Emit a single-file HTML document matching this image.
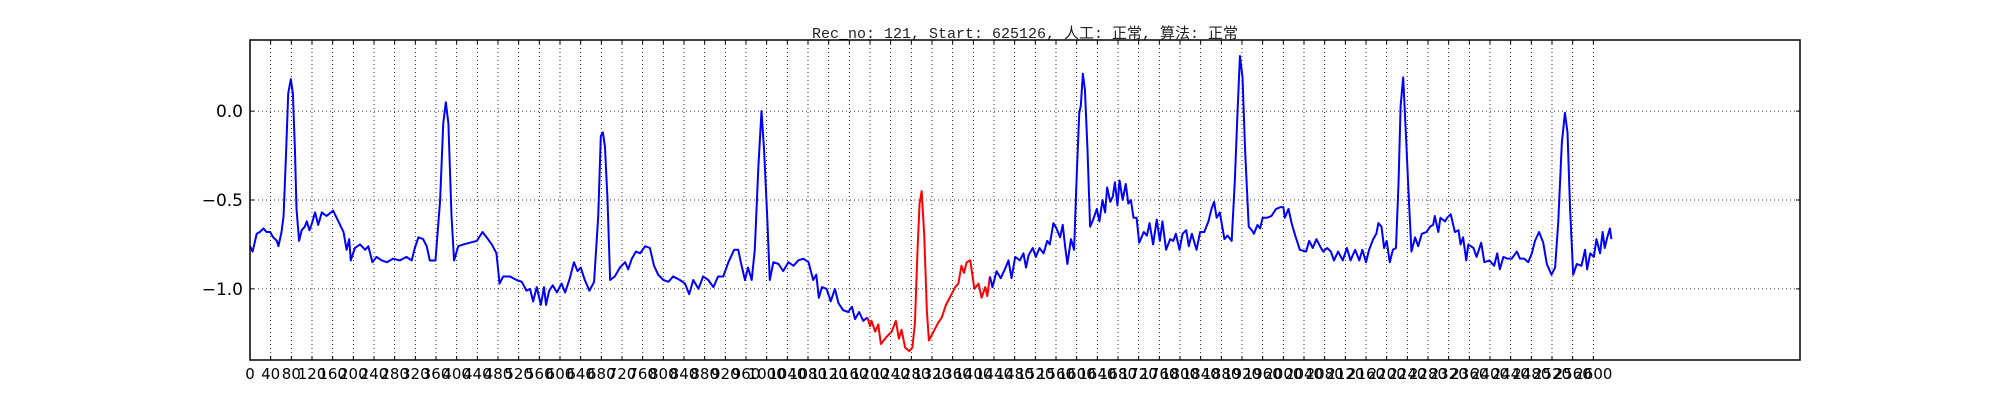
<!DOCTYPE html>
<html><head><meta charset="utf-8">
<style>
html,body{margin:0;padding:0;background:#fff;}
svg{display:block;}
</style></head>
<body>
<svg id="chart" width="2000" height="400" xmlns="http://www.w3.org/2000/svg">
<rect x="0" y="0" width="2000" height="400" fill="#fff"/>
<text x="1025" y="38" text-anchor="middle" font-family="'Liberation Mono','Noto Sans CJK SC',monospace" font-size="15" fill="#222">Rec_no: 121, Start: 625126, 人工: 正常, 算法: 正常</text>
<g id="grid"></g>
<g id="series"></g>
<g id="axes"></g>
</svg>
<script>
const xTicks = [];
for (let t = 0; t <= 2600; t += 40) xTicks.push(t);
const yTicks = [-1.0, -0.5, 0.0];
const yTickLabels = ["\u22121.0", "\u22120.5", "0.0"];
const redStart = 1200, redEnd = 1432;
const xs = [0,5,13,19,26,32,39,45,52,55,61,65,70,74,79,83,87,90,95,100,106,110,115,119,126,132,139,148,161,171,181,187,192,195,203,213,223,229,237,245,255,265,277,290,303,313,319,326,335,342,348,359,368,374,379,384,390,395,403,413,426,439,450,458,468,477,483,490,503,516,526,535,
542,548,555,563,569,573,579,586,594,603,610,619,627,634,640,648,657,666,674,679,683,687,692,697,706,716,726,732,739,747,755,765,774,782,790,800,810,819,832,842,850,858,868,877,887,897,906,916,926,937,945,950,958,964,971,977,984,990,995,1001,1006,1013,1023,1032,1042,1052,1061,1071,1081,
1090,1096,1101,1107,1116,1124,1132,1139,1148,1158,1165,1171,1179,1187,1195,1200,1203,1210,1216,1221,1232,1242,1250,1256,1261,1268,1276,1282,1287,1292,1296,1300,1305,1310,1314,1323,1332,1339,1347,1356,1365,1371,1377,1382,1387,1394,1402,1410,1416,1423,1427,1432,1437,1445,1453,1461,1468,1474,1481,1490,1497,1502,1507,1515,1521,1528,1536,1543,1548,1555,1561,1568,1573,1578,1582,1589,1595,1600,1605,1608,1612,1616,1621,1626,
1632,1639,1644,1650,1655,1659,1665,1670,1674,1679,1683,1689,1695,1700,1705,1710,1716,1721,1730,1736,1741,1748,1755,1761,1766,1773,1781,1787,1792,1799,1805,1812,1817,1823,1832,1839,1847,1855,1861,1866,1871,1877,1886,1892,1900,1906,1911,1916,1921,1926,1933,1939,1943,1950,1955,1960,1968,1977,1986,1995,2000,2003,2010,2016,2023,2032,2044,2050,2057,2064,2071,2077,2085,2092,2098,2106,2115,2123,2130,2139,2147,2153,2160,2166,
2174,2180,2184,2190,2195,2200,2206,2212,2218,2223,2227,2232,2238,2243,2248,2255,2261,2268,2277,2284,2290,2293,2300,2304,2313,2317,2324,2332,2339,2343,2348,2354,2358,2368,2374,2383,2389,2399,2408,2414,2419,2426,2434,2442,2452,2458,2466,2474,2481,2487,2495,2503,2510,2519,2526,2532,2539,2545,2550,2555,2561,2568,2577,2584,2588,2594,2601,2606,2613,2618,2622,2627,2632,2635];
const vals = [-0.76,-0.79,-0.69,-0.68,-0.66,-0.68,-0.68,-0.71,-0.73,-0.76,-0.68,-0.59,-0.22,0.10,0.18,0.10,-0.22,-0.55,-0.73,-0.67,-0.65,-0.62,-0.67,-0.64,-0.57,-0.64,-0.57,-0.59,-0.56,-0.62,-0.68,-0.78,-0.72,-0.84,-0.77,-0.75,-0.78,-0.76,-0.85,-0.82,-0.84,-0.85,-0.83,-0.84,-0.82,-0.84,-0.77,-0.71,-0.72,-0.76,-0.84,-0.84,-0.50,-0.07,0.05,-0.07,-0.59,-0.84,-0.76,-0.75,-0.74,-0.73,-0.68,-0.71,-0.75,-0.80,-0.97,-0.93,-0.93,-0.95,-0.96,-1.01,
-1.00,-1.07,-0.99,-1.09,-0.99,-1.09,-1.01,-0.98,-1.02,-0.97,-1.02,-0.94,-0.85,-0.90,-0.88,-0.95,-1.01,-0.96,-0.59,-0.14,-0.12,-0.20,-0.50,-0.95,-0.93,-0.88,-0.85,-0.89,-0.83,-0.79,-0.80,-0.76,-0.77,-0.87,-0.92,-0.95,-0.96,-0.93,-0.95,-0.97,-1.03,-0.95,-1.00,-0.93,-0.95,-0.99,-0.93,-0.93,-0.85,-0.78,-0.78,-0.85,-0.95,-0.88,-0.95,-0.78,-0.31,0.00,-0.22,-0.59,-0.95,-0.85,-0.86,-0.90,-0.85,-0.87,-0.84,-0.83,-0.85,
-0.95,-0.92,-1.05,-0.99,-1.00,-1.07,-1.00,-1.08,-1.12,-1.13,-1.10,-1.17,-1.13,-1.18,-1.16,-1.21,-1.18,-1.24,-1.20,-1.31,-1.27,-1.24,-1.18,-1.28,-1.23,-1.33,-1.35,-1.33,-1.19,-0.78,-0.52,-0.45,-0.70,-1.12,-1.29,-1.24,-1.19,-1.16,-1.09,-1.04,-0.99,-0.97,-0.87,-0.91,-0.85,-0.84,-1.00,-0.97,-1.05,-0.99,-1.04,-0.93,-0.99,-0.90,-0.94,-0.89,-0.84,-0.94,-0.82,-0.84,-0.80,-0.88,-0.81,-0.77,-0.82,-0.77,-0.80,-0.73,-0.75,-0.63,-0.66,-0.71,-0.64,-0.77,-0.86,-0.72,-0.78,-0.37,-0.01,0.03,0.21,0.12,-0.22,-0.65,
-0.61,-0.55,-0.62,-0.50,-0.57,-0.43,-0.51,-0.48,-0.40,-0.53,-0.39,-0.50,-0.41,-0.52,-0.50,-0.60,-0.60,-0.74,-0.68,-0.70,-0.63,-0.75,-0.61,-0.73,-0.62,-0.78,-0.72,-0.73,-0.69,-0.78,-0.69,-0.67,-0.76,-0.69,-0.78,-0.68,-0.68,-0.62,-0.55,-0.51,-0.60,-0.57,-0.72,-0.70,-0.73,-0.40,-0.03,0.31,0.19,-0.22,-0.65,-0.67,-0.69,-0.64,-0.66,-0.60,-0.60,-0.59,-0.55,-0.54,-0.54,-0.60,-0.55,-0.63,-0.70,-0.78,-0.79,-0.73,-0.77,-0.72,-0.76,-0.79,-0.77,-0.79,-0.84,-0.79,-0.84,-0.77,-0.84,-0.78,-0.84,-0.78,-0.85,-0.78,
-0.72,-0.69,-0.63,-0.65,-0.77,-0.73,-0.85,-0.78,-0.77,-0.40,0.03,0.19,-0.18,-0.50,-0.79,-0.71,-0.76,-0.69,-0.68,-0.65,-0.64,-0.59,-0.68,-0.60,-0.62,-0.60,-0.58,-0.68,-0.67,-0.75,-0.71,-0.84,-0.75,-0.77,-0.82,-0.74,-0.85,-0.84,-0.87,-0.80,-0.89,-0.82,-0.83,-0.83,-0.79,-0.83,-0.83,-0.85,-0.80,-0.73,-0.68,-0.74,-0.86,-0.92,-0.88,-0.63,-0.18,-0.01,-0.12,-0.55,-0.92,-0.86,-0.87,-0.78,-0.89,-0.80,-0.82,-0.72,-0.80,-0.68,-0.77,-0.71,-0.66,-0.72];

const NS = "http://www.w3.org/2000/svg";
const L = 250, R = 1800, T = 40, B = 360;
const xMin = 0, xMax = 3000, yMin = -1.4, yMax = 0.4;
function sx(u){ return L + (u - xMin) / (xMax - xMin) * (R - L); }
function sy(v){ return B - (v - yMin) / (yMax - yMin) * (B - T); }
function mk(tag, attrs, parent){ const e = document.createElementNS(NS, tag); for (const k in attrs) e.setAttribute(k, attrs[k]); parent.appendChild(e); return e; }

const grid = document.getElementById('grid');
const axes = document.getElementById('axes');
const series = document.getElementById('series');

xTicks.forEach(t => {
  const x = sx(t);
  const g = mk('line', {x1:x, x2:x, y1:T, y2:B, stroke:'#000', 'stroke-width':0.8, 'stroke-dasharray':'1,3'}, grid);
  
  
  const tb = mk('line', {x1:x, x2:x, y1:B, y2:B-4, stroke:'#000', 'stroke-width':1}, axes);
  
  
  const tt = mk('line', {x1:x, x2:x, y1:T, y2:T+4, stroke:'#000', 'stroke-width':1}, axes);
  
  
  const lb = mk('text', {x:x, y:379, 'text-anchor':'middle', 'font-family':"'DejaVu Sans',sans-serif", 'font-size':15, fill:'#000'}, axes);
  lb.textContent = String(t);
  
  
});
yTicks.forEach((t, i) => {
  const y = sy(t);
  const g = mk('line', {x1:L, x2:R, y1:y, y2:y, stroke:'#000', 'stroke-width':0.8, 'stroke-dasharray':'1,3'}, grid);
  
  
  const tl = mk('line', {x1:L, x2:L+4, y1:y, y2:y, stroke:'#000', 'stroke-width':1}, axes);
  
  
  const tr = mk('line', {x1:R-4, x2:R, y1:y, y2:y, stroke:'#000', 'stroke-width':1}, axes);
  
  
  const lb = mk('text', {x:243, y:y+6, 'text-anchor':'end', 'font-family':"'DejaVu Sans',sans-serif", 'font-size':17, fill:'#000'}, axes);
  lb.textContent = yTickLabels[i];
  
  
});
const frame = mk('rect', {x:L, y:T, width:R-L, height:B-T, fill:'none', stroke:'#000', 'stroke-width':1.5}, axes);



const segs = [];
let cur = null;
for (let i = 0; i < xs.length; i++) {
  const red = xs[i] >= redStart && xs[i] <= redEnd;
  const col = red ? 'red' : 'blue';
  const pt = sx(xs[i]).toFixed(2) + ',' + sy(vals[i]).toFixed(2);
  if (!cur || cur.col !== col) {
    const prev = cur ? cur.pts[cur.pts.length - 1] : null;
    cur = {col: col, pts: prev ? [prev] : []};
    segs.push(cur);
  }
  cur.pts.push(pt);
}
segs.forEach(s => {
  const p = mk('polyline', {points: s.pts.join(' '), fill:'none', stroke: s.col === 'red' ? '#ff0000' : '#0000ff', 'stroke-width':2, 'stroke-linejoin':'round'}, series);
  
  
});
</script>
</body></html>
